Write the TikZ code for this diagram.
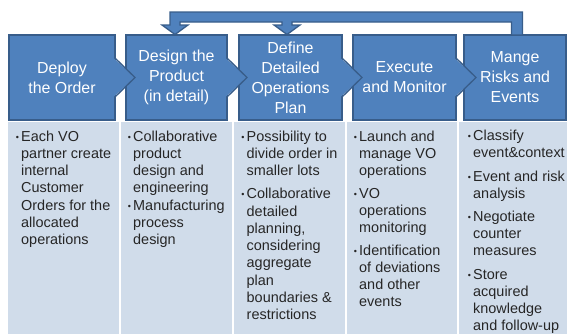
\documentclass[tikz,border=0pt]{standalone}
\usepackage{fontspec}
\setmainfont{Liberation Sans}
\usetikzlibrary{calc}
\definecolor{boxfill}{HTML}{4F81BD}
\definecolor{boxline}{HTML}{385D8A}
\definecolor{panelfill}{HTML}{D0DCEA}
\definecolor{txt}{HTML}{262626}
\newcommand\bul{\llap{\fontsize{9}{9}\selectfont\raisebox{1bp}{•}\hspace{2.2bp}}}
\newcommand\chev[1]{%
  \fill[boxfill] ($(#1.east)+(-1.5,-19.5)$) -- ($(#1.east)+(20,0)$) -- ($(#1.east)+(-1.5,19.5)$) -- cycle;
  \draw[boxline, line width=1.3bp] ($(#1.east)+(0,-19.5)$) -- ($(#1.east)+(20,0)$) -- ($(#1.east)+(0,19.5)$);}
\begin{document}
\begin{tikzpicture}[x=1bp,y=-1bp,
  stage/.style={draw=boxline, fill=boxfill, line width=1.3bp, text=white, align=center,
    font=\fontsize{16}{20}\selectfont, inner sep=0, outer sep=0, minimum height=85bp},
  panel/.style={fill=panelfill, inner sep=0, outer sep=0, minimum height=212bp, anchor=north west},
  items/.style={anchor=north west, align=left, inner sep=0, text=txt,
    font=\fontsize{14.5}{17.3}\selectfont},
  feedback/.style={fill=boxfill, draw=boxline, line width=1.3bp, line join=miter}
]
\useasboundingbox (0,0) rectangle (567,334);

% lower panels
\node[panel, minimum width=111bp] (p1) at (8,122) {};
\node[panel, minimum width=111bp] (p2) at (121,122) {};
\node[panel, minimum width=111bp] (p3) at (234,122) {};
\node[panel, minimum width=110bp] (p4) at (347,122) {};
\node[panel, minimum width=108bp] (p5) at (459,122) {};

% stage boxes
\node[stage, minimum width=106bp] (b1) at (62,77.5) {Deploy\\the Order};
\node[stage, minimum width=101bp] (b2) at (176.5,77.5) {Design the\\Product\\(in detail)};
\node[stage, minimum width=103bp] (b3) at (290.5,77.5) {Define\\Detailed\\Operations\\Plan};
\node[stage, minimum width=103bp] (b4) at (404.5,77.5) {Execute\\and Monitor};
\node[stage, minimum width=102bp] (b5) at (515,77.5) {Mange\\Risks and\\Events};

% feedback arrow
\coordinate (fr) at ($(b5.north)+(2,0)$);
\coordinate (fa) at ($(b2.north)+(-1.5,0)$);
\coordinate (fb) at ($(b3.north)+(-3.5,0)$);
\draw[feedback]
  ($(fa)+(-5,-23)$) -- ($(fr)+(5.5,-23)$) -- ($(fr)+(5.5,0)$) -- ($(fr)+(-5.5,0)$)
  -- ($(fr)+(-5.5,-13)$) -- ($(fb)+(5,-13)$) -- ($(fb)+(5,-10)$) -- ($(fb)+(13,-10)$)
  -- ($(fb)+(0,-0.5)$) -- ($(fb)+(-13,-10)$) -- ($(fb)+(-5,-10)$) -- ($(fb)+(-5,-13)$)
  -- ($(fa)+(5,-13)$) -- ($(fa)+(5,-10)$) -- ($(fa)+(13,-10)$)
  -- ($(fa)+(0,-0.5)$) -- ($(fa)+(-13,-10)$) -- ($(fa)+(-5,-10)$) -- cycle;

% chevrons between stages
\chev{b1}
\chev{b2}
\chev{b3}
\chev{b4}

% panel texts
\node[items] (t1) at (21,130.5) {\bul Each VO\\partner create\\internal\\Customer\\Orders for the\\allocated\\operations};
\node[items] (t2) at (133,130.5) {\bul Collaborative\\product\\design and\\engineering\\\bul Manufacturing\\process\\design};
\node[items] (t3) at (246.5,130.5) {\bul Possibility to\\divide order in\\smaller lots\\[6bp]\bul Collaborative\\detailed\\planning,\\considering\\aggregate\\plan\\boundaries \&\\restrictions};
\node[items] (t4) at (359,130.5) {\bul Launch and\\manage VO\\operations\\[5.3bp]\bul VO\\operations\\monitoring\\[5.3bp]\bul Identification\\of deviations\\and other\\events};
\node[items] (t5) at (473,130) {\bul Classify\\event\&context\\[6.2bp]\bul Event and risk\\analysis\\[5.3bp]\bul Negotiate\\counter\\measures\\[6.4bp]\bul Store\\acquired\\knowledge\\and follow-up};
\end{tikzpicture}
\end{document}
